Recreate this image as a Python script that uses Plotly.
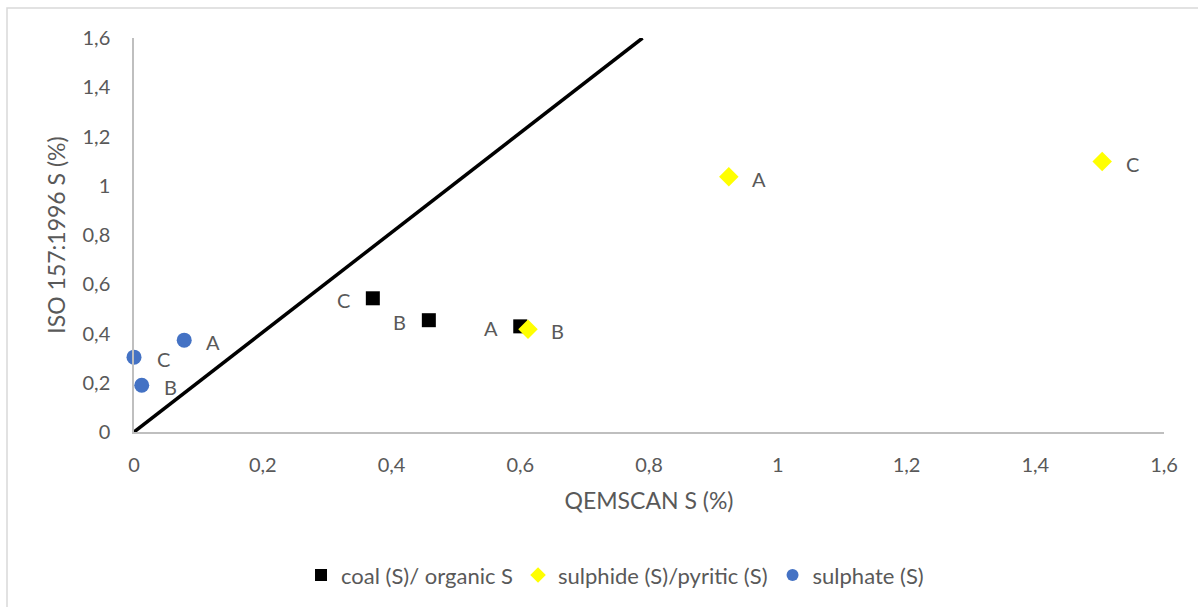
import plotly.graph_objects as go

# Sample measurements: QEMSCAN S (%) vs ISO 157:1996 S (%)
coal_x = [0.600, 0.458, 0.371]
coal_y = [0.429, 0.454, 0.543]
coal_lbl = ["A", "B", "C"]

sulphide_x = [0.924, 0.612, 1.504]
sulphide_y = [1.037, 0.417, 1.098]
sulphide_lbl = ["A", "B", "C"]

sulphate_x = [0.078, 0.012, 0.000]
sulphate_y = [0.373, 0.190, 0.304]
sulphate_lbl = ["A", "B", "C"]

# reference line through the origin
line_x = [0.0, 0.79]
line_y = [0.0, 1.6]

tick_vals = [0, 0.2, 0.4, 0.6, 0.8, 1.0, 1.2, 1.4, 1.6]
tick_text = ["0", "0,2", "0,4", "0,6", "0,8", "1", "1,2", "1,4", "1,6"]

FONT = "Lato, 'Liberation Sans', sans-serif"
GREY = "#595959"
FS = 20
TS = 23

fig = go.Figure()

fig.add_trace(go.Scatter(
    x=line_x, y=line_y, mode="lines",
    line=dict(color="black", width=3.5),
    showlegend=False, hoverinfo="skip",
))

fig.add_trace(go.Scatter(
    x=coal_x, y=coal_y, mode="markers", name="coal (S)/ organic S",
    marker=dict(symbol="square", size=14, color="black"),
    cliponaxis=False,
))
fig.add_trace(go.Scatter(
    x=sulphide_x, y=sulphide_y, mode="markers", name="sulphide (S)/pyritic (S)",
    marker=dict(symbol="diamond", size=15, color="#ffff00"),
    cliponaxis=False,
))
fig.add_trace(go.Scatter(
    x=sulphate_x, y=sulphate_y, mode="markers", name="sulphate (S)",
    marker=dict(symbol="circle", size=15, color="#4472c4"),
    cliponaxis=False,
))

# point labels: coal on the left, others on the right
annotations = []
for xs, ys, lbls, shift in [
    (coal_x, coal_y, coal_lbl, -29),
    (sulphide_x, sulphide_y, sulphide_lbl, 30),
    (sulphate_x, sulphate_y, sulphate_lbl, 29),
]:
    for xv, yv, t in zip(xs, ys, lbls):
        annotations.append(dict(
            x=xv, y=yv, text=t, showarrow=False, xshift=shift, yshift=-2,
            font=dict(family=FONT, size=FS, color=GREY),
        ))

fig.update_layout(
    width=1198, height=607,
    paper_bgcolor="white", plot_bgcolor="white",
    margin=dict(l=134, r=34, t=38, b=174),
    font=dict(family=FONT, size=FS, color=GREY),
    separators=", ",
    annotations=annotations,
    xaxis=dict(
        range=[0, 1.6], tickvals=tick_vals, ticktext=tick_text,
        showgrid=False, zeroline=False, showline=True,
        linecolor="#bfbfbf", linewidth=1.5, ticks="",
        tickfont=dict(size=FS, color=GREY), ticklabelstandoff=14,
        title=dict(text="QEMSCAN S (%)", font=dict(size=TS, color=GREY), standoff=18),
    ),
    yaxis=dict(
        range=[0, 1.6], tickvals=tick_vals, ticktext=tick_text,
        showgrid=False, zeroline=False, showline=True,
        linecolor="#bfbfbf", linewidth=1.5, ticks="",
        tickfont=dict(size=FS, color=GREY), ticklabelstandoff=18,
        title=dict(text="ISO 157:1996 S (%)", font=dict(size=TS, color=GREY), standoff=10),
    ),
    legend=dict(
        orientation="h", x=0.467, xanchor="center", y=-0.36, yanchor="middle",
        font=dict(size=22, color=GREY), itemsizing="constant",
    ),
    # chart-area frame: only its top and left edges fall inside the page
    shapes=[dict(
        type="rect", xref="paper", yref="paper",
        x0=-0.1233, x1=1.06, y0=-0.47, y1=1.0759,
        line=dict(color="#d9d9d9", width=1.5), layer="below",
    )],
)

fig.write_html("out.html")
